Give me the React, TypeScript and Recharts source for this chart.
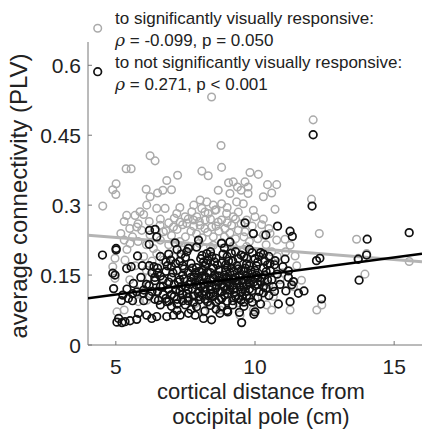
import React from "react";
import { ScatterChart, Scatter, XAxis, YAxis } from "recharts";

// electrodes connected to significantly visually responsive sites (gray)
const respSpread: [number, number][] = [
  [8.44, 0.532], [8.78, 0.428], [12.09, 0.483], [6.23, 0.406], [6.41, 0.395], [5.37, 0.378],
  [5.55, 0.378], [8.8, 0.381], [8.09, 0.373], [9.82, 0.37], [10.12, 0.366], [7.22, 0.364],
  [8.32, 0.363], [9.64, 0.35], [6.83, 0.353], [10.45, 0.344], [10.78, 0.344], [5.01, 0.346],
  [4.89, 0.333], [5.0, 0.323], [4.53, 0.298], [12.03, 0.313], [9.05, 0.348], [9.22, 0.35],
  [9.37, 0.339], [9.75, 0.339], [9.5, 0.332], [6.5, 0.326], [6.69, 0.332], [7.0, 0.333],
  [6.09, 0.334], [8.68, 0.332], [10.6, 0.326], [10.3, 0.318], [6.23, 0.318], [9.1, 0.325],
  [9.75, 0.325], [8.03, 0.311], [8.27, 0.307], [8.5, 0.3], [8.8, 0.303], [9.34, 0.307],
  [9.58, 0.303], [9.94, 0.289], [10.72, 0.291], [5.39, 0.278], [5.69, 0.278], [5.87, 0.286],
  [6.11, 0.3], [6.47, 0.293], [6.77, 0.293], [7.19, 0.282], [7.49, 0.275], [7.73, 0.286],
  [7.91, 0.275], [8.09, 0.293], [8.32, 0.282], [8.56, 0.289], [8.98, 0.282], [9.22, 0.275],
  [10.24, 0.258], [5.75, 0.253], [5.93, 0.246], [6.23, 0.236], [6.59, 0.257], [6.71, 0.243],
  [7.07, 0.253], [7.31, 0.264], [7.55, 0.261], [7.79, 0.268], [8.03, 0.257], [8.21, 0.268],
  [8.44, 0.253], [8.68, 0.264], [8.92, 0.25], [9.16, 0.257], [9.4, 0.246], [9.64, 0.243],
  [9.94, 0.239], [10.3, 0.236], [10.54, 0.239], [10.78, 0.225], [11.08, 0.227], [11.26, 0.214],
  [11.44, 0.191], [12.31, 0.239], [13.65, 0.227], [13.71, 0.186], [14.01, 0.196], [13.95, 0.152],
  [15.54, 0.179], [4.89, 0.168], [4.97, 0.186], [5.33, 0.182], [5.51, 0.218], [5.3, 0.225],
  [5.18, 0.239], [5.04, 0.071], [5.3, 0.075], [4.97, 0.143], [6.35, 0.207], [6.47, 0.196],
  [6.71, 0.182], [7.07, 0.189], [7.37, 0.204], [7.67, 0.211], [8.5, 0.214], [9.22, 0.211],
  [9.7, 0.211], [10.66, 0.104], [10.42, 0.086], [10.6, 0.075], [11.26, 0.075], [12.22, 0.075],
  [12.4, 0.086], [7.85, 0.089], [8.15, 0.071], [8.75, 0.075], [9.46, 0.064], [9.94, 0.075],
  [5.93, 0.111], [6.11, 0.096], [5.81, 0.093], [7.31, 0.118], [11.38, 0.125], [11.67, 0.139],
];

const respBand: [number, number][] = [
  [6.6, 0.27], [6.9, 0.262], [7.1, 0.272], [7.4, 0.258], [7.6, 0.27], [7.8, 0.255], [8.0, 0.265],
  [8.2, 0.25], [8.4, 0.27], [8.6, 0.255], [8.8, 0.268], [9.0, 0.262], [9.3, 0.27], [9.5, 0.26],
  [9.7, 0.268], [9.9, 0.255], [6.8, 0.245], [7.0, 0.235], [7.2, 0.248], [7.5, 0.232], [7.7, 0.244],
  [7.9, 0.238], [8.1, 0.23], [8.3, 0.242], [8.5, 0.232], [8.7, 0.244], [8.9, 0.232], [9.1, 0.24],
  [9.3, 0.228], [9.6, 0.232], [9.8, 0.222], [10.1, 0.228], [6.6, 0.225], [6.9, 0.215], [7.3, 0.222],
  [7.6, 0.212], [8.0, 0.218], [8.4, 0.21], [8.8, 0.22], [9.2, 0.212], [9.6, 0.205], [10.4, 0.215],
  [10.6, 0.2], [5.6, 0.232], [5.8, 0.222], [6.1, 0.215], [5.4, 0.205], [6.0, 0.19], [6.3, 0.18],
  [5.7, 0.17], [6.1, 0.16], [5.5, 0.14], [5.9, 0.13], [6.2, 0.145], [7.5, 0.1], [8.3, 0.09],
  [9.4, 0.09], [10.0, 0.1], [10.5, 0.13], [10.9, 0.14], [11.0, 0.155], [10.8, 0.19], [11.1, 0.2],
  [11.5, 0.17], [8.6, 0.29], [9.0, 0.295], [7.3, 0.295], [7.8, 0.3], [8.2, 0.285], [9.4, 0.285],
  [10.0, 0.275], [10.3, 0.27], [10.5, 0.25], [6.2, 0.265], [6.0, 0.28], [5.8, 0.26], [5.5, 0.25],
  [5.3, 0.265],
];

// electrodes connected to not significantly visually responsive sites (black)
const nonRespSpread: [number, number][] = [
  [12.09, 0.451], [12.05, 0.298], [15.54, 0.241], [14.03, 0.227], [13.74, 0.139], [14.01, 0.193],
  [13.71, 0.184], [12.39, 0.099], [12.21, 0.181], [12.33, 0.186], [9.64, 0.262], [10.81, 0.255],
  [11.26, 0.244], [11.34, 0.233], [10.39, 0.236], [9.94, 0.239], [4.52, 0.193], [5.01, 0.207],
  [5.01, 0.204], [6.21, 0.246], [6.41, 0.248], [6.2, 0.216], [6.47, 0.232], [7.13, 0.219],
  [5.78, 0.191], [5.95, 0.17], [5.39, 0.164], [5.55, 0.168], [4.89, 0.154], [4.97, 0.15],
  [4.92, 0.121], [5.63, 0.132], [6.37, 0.168], [6.97, 0.182], [7.61, 0.207], [7.97, 0.225],
  [8.27, 0.196], [8.8, 0.218], [9.1, 0.221], [9.7, 0.186], [10.3, 0.195], [10.54, 0.175],
  [10.72, 0.181], [11.08, 0.184], [11.2, 0.159], [11.38, 0.136], [11.32, 0.129], [11.56, 0.111],
  [11.76, 0.116], [11.11, 0.116], [11.26, 0.093], [10.84, 0.088], [10.0, 0.071], [9.96, 0.066],
  [9.52, 0.048], [9.44, 0.07], [9.02, 0.071], [8.74, 0.068], [8.44, 0.054], [8.15, 0.057],
  [7.85, 0.064], [7.61, 0.068], [7.31, 0.064], [7.07, 0.064], [6.83, 0.061], [6.47, 0.061],
  [6.29, 0.057], [6.11, 0.064], [5.81, 0.068], [5.75, 0.055], [5.51, 0.052], [5.33, 0.05],
  [5.22, 0.048], [5.04, 0.049], [5.1, 0.057], [5.25, 0.107], [5.45, 0.1], [5.75, 0.114],
  [5.99, 0.111], [6.53, 0.096], [6.83, 0.093],
];

const nonRespCluster: [number, number][] = [
  [7.2, 0.205], [7.9, 0.21], [8.4, 0.2], [8.9, 0.208], [9.3, 0.2], [9.8, 0.205], [10.2, 0.198], [6.9, 0.195],
  [6.6, 0.19], [7.5, 0.188], [8.1, 0.192], [8.6, 0.186], [9.0, 0.19], [9.5, 0.193], [10.0, 0.185], [10.5, 0.19],
  [6.8, 0.178], [7.3, 0.18], [7.7, 0.175], [8.3, 0.182], [8.8, 0.176], [9.2, 0.18], [9.7, 0.174], [10.1, 0.178],
  [10.7, 0.172], [6.5, 0.165], [7.0, 0.168], [7.4, 0.17], [7.9, 0.166], [8.2, 0.17], [8.5, 0.165], [9.0, 0.168],
  [9.4, 0.163], [9.8, 0.17], [10.3, 0.165], [11.0, 0.168], [6.3, 0.155], [6.8, 0.158], [7.2, 0.16], [7.6, 0.155],
  [8.0, 0.158], [8.4, 0.155], [8.7, 0.16], [9.1, 0.155], [9.6, 0.158], [9.9, 0.152], [10.4, 0.157], [10.8, 0.152],
  [6.6, 0.148], [7.0, 0.145], [7.4, 0.15], [7.8, 0.146], [8.1, 0.148], [8.5, 0.144], [8.9, 0.15], [9.3, 0.145],
  [9.7, 0.148], [10.1, 0.144], [10.6, 0.14], [11.2, 0.145], [6.4, 0.138], [6.9, 0.135], [7.3, 0.14], [7.7, 0.136],
  [8.0, 0.138], [8.3, 0.134], [8.7, 0.138], [9.0, 0.134], [9.4, 0.138], [9.8, 0.133], [10.2, 0.136], [10.9, 0.13],
  [6.2, 0.128], [6.7, 0.126], [7.1, 0.13], [7.5, 0.125], [7.9, 0.128], [8.2, 0.124], [8.6, 0.129], [8.9, 0.124],
  [9.2, 0.128], [9.6, 0.124], [10.0, 0.127], [10.4, 0.122], [6.0, 0.118], [6.5, 0.115], [6.9, 0.12], [7.3, 0.116],
  [7.6, 0.119], [8.0, 0.115], [8.4, 0.118], [8.8, 0.114], [9.1, 0.118], [9.5, 0.114], [9.9, 0.117], [10.3, 0.112],
  [10.7, 0.115], [6.2, 0.105], [6.7, 0.108], [7.1, 0.104], [7.4, 0.108], [7.8, 0.105], [8.1, 0.108], [8.5, 0.104],
  [8.9, 0.107], [9.3, 0.104], [9.7, 0.106], [10.1, 0.102], [10.5, 0.106], [6.0, 0.095], [6.4, 0.098], [6.9, 0.094],
  [7.2, 0.098], [7.6, 0.095], [8.0, 0.097], [8.3, 0.093], [8.7, 0.097], [9.0, 0.094], [9.5, 0.096], [9.9, 0.092],
  [6.6, 0.086], [7.0, 0.083], [7.5, 0.086], [7.9, 0.082], [8.4, 0.085], [8.8, 0.082], [9.2, 0.086], [9.6, 0.083],
  [10.2, 0.088], [7.2, 0.074], [7.7, 0.076], [8.2, 0.073], [8.6, 0.077], [9.0, 0.074],
  [8.25, 0.145], [8.45, 0.125], [8.65, 0.135], [8.75, 0.115], [9.05, 0.142], [9.25, 0.122], [9.45, 0.15],
  [9.55, 0.133], [9.65, 0.115], [9.75, 0.14], [7.95, 0.112], [8.15, 0.132], [8.35, 0.105], [7.65, 0.13],
  [7.45, 0.142], [7.85, 0.155], [8.55, 0.15], [8.95, 0.16], [9.35, 0.17], [9.85, 0.16], [10.05, 0.15],
  [10.25, 0.145],
];

const nonRespCore: [number, number][] = [
  [7.35, 0.195], [7.55, 0.2], [8.05, 0.185], [8.25, 0.175], [8.45, 0.19], [8.65, 0.172], [8.85, 0.195],
  [9.05, 0.18], [9.15, 0.197], [9.4, 0.185], [9.6, 0.19], [9.9, 0.198], [10.15, 0.19], [10.35, 0.18],
  [10.55, 0.16], [10.65, 0.125], [10.45, 0.14], [7.05, 0.155], [7.25, 0.135], [7.15, 0.118], [7.35, 0.125],
  [7.55, 0.11], [7.7, 0.145], [7.75, 0.12], [7.85, 0.135], [7.95, 0.145], [8.05, 0.125], [8.1, 0.16],
  [8.2, 0.115], [8.3, 0.155], [8.4, 0.14], [8.5, 0.112], [8.6, 0.122], [8.7, 0.148], [8.8, 0.13],
  [8.85, 0.142], [8.95, 0.118], [9.0, 0.145], [9.1, 0.128], [9.15, 0.165], [9.2, 0.14], [9.3, 0.113],
  [9.35, 0.132], [9.45, 0.125], [9.5, 0.16], [9.55, 0.105], [9.6, 0.14], [9.7, 0.128], [9.8, 0.12],
  [9.85, 0.145], [9.95, 0.135], [10.0, 0.16], [10.1, 0.13], [10.15, 0.115], [10.3, 0.125], [10.35, 0.15],
  [7.0, 0.108], [7.2, 0.088], [7.4, 0.095], [7.6, 0.102], [7.8, 0.092], [8.0, 0.104], [8.2, 0.098],
  [8.4, 0.11], [8.6, 0.092], [8.8, 0.1], [9.0, 0.11], [9.2, 0.095], [9.4, 0.1], [9.6, 0.092], [9.8, 0.1],
  [6.8, 0.1], [6.6, 0.125], [6.7, 0.14], [6.5, 0.155], [6.85, 0.17], [7.15, 0.175], [7.45, 0.163],
  [7.75, 0.165], [8.15, 0.178], [8.55, 0.178], [8.95, 0.172], [9.25, 0.158], [9.65, 0.165], [10.05, 0.17],
  [10.45, 0.172], [6.3, 0.115], [6.1, 0.13], [6.4, 0.145], [6.2, 0.17], [5.9, 0.145], [5.6, 0.11],
  [5.4, 0.12], [5.2, 0.095], [5.6, 0.095],
];

// least-squares fits, endpoints at the axis limits
const respFit: [number, number][] = [[4, 0.2357], [16, 0.1786]];
const nonRespFit: [number, number][] = [[4, 0.1], [16, 0.196]];

const xTicks = [5, 10, 15];
const yTicks = [0, 0.15, 0.3, 0.45, 0.6];

const legendLines = [
  "to significantly visually responsive:",
  "= -0.099, p = 0.050",
  "to not significantly visually responsive:",
  "= 0.271, p < 0.001",
];

const toObj = (pts: [number, number][]) => pts.map(([x, y]) => ({ x, y }));

const GRAY = "#aaaaaa";
const BLACK = "#111111";
const FONT = "'Liberation Sans', Arial, sans-serif";

const ring = (color: string, w: number) => (props: any) =>
  <circle cx={props.cx} cy={props.cy} r={3.8} fill="none" stroke={color} strokeWidth={w} />;

const XTick = (props: any) => (
  <g>
    <line x1={props.x} y1={props.y} x2={props.x} y2={props.y - 4} stroke="#777" />
    <text x={props.x} y={props.y + 29} textAnchor="middle" fontSize={21} fill="#222" fontFamily={FONT}>
      {props.payload.value}
    </text>
  </g>
);

const YTick = (props: any) => (
  <g>
    <line x1={props.x} y1={props.y} x2={props.x + 4} y2={props.y} stroke="#777" />
    <text x={props.x - 7} y={props.y} dy="0.36em" textAnchor="end" fontSize={21} fill="#222" fontFamily={FONT}>
      {props.payload.value}
    </text>
  </g>
);

export default function App() {
  return (
    <div style={{ position: "absolute", left: 0, top: 0, background: "#fff" }}>
      <ScatterChart width={422} height={433} margin={{ top: 42, right: 0, bottom: 0, left: 0 }}>
        <XAxis
          type="number"
          dataKey="x"
          domain={[4, 16]}
          ticks={xTicks}
          allowDataOverflow
          height={88}
          stroke="#777"
          tickSize={0}
          tickMargin={0}
          tick={<XTick />}
        />
        <YAxis
          type="number"
          dataKey="y"
          domain={[0, 0.65]}
          ticks={yTicks}
          allowDataOverflow
          width={88}
          stroke="#777"
          tickSize={0}
          tickMargin={0}
          tick={<YTick />}
        />
        <Scatter data={toObj([...respSpread, ...respBand])} shape={ring(GRAY, 1.5)} isAnimationActive={false} />
        <Scatter
          data={toObj(respFit)}
          line={{ stroke: "#b4b4b4", strokeWidth: 3 }}
          shape={() => <g />}
          isAnimationActive={false}
        />
        <Scatter
          data={toObj([...nonRespSpread, ...nonRespCluster, ...nonRespCore])}
          shape={ring(BLACK, 1.7)}
          isAnimationActive={false}
        />
        <Scatter
          data={toObj(nonRespFit)}
          line={{ stroke: "#000", strokeWidth: 2.5 }}
          shape={() => <g />}
          isAnimationActive={false}
        />
        <text
          transform="translate(27,196) rotate(-90)"
          textAnchor="middle"
          fontSize={24}
          fill="#222"
          fontFamily={FONT}
        >
          average connectivity (PLV)
        </text>
        <text x={261} y={399} textAnchor="middle" fontSize={22} fill="#222" fontFamily={FONT}>
          cortical distance from
        </text>
        <text x={261} y={424} textAnchor="middle" fontSize={22} fill="#222" fontFamily={FONT}>
          occipital pole (cm)
        </text>
        <circle cx={97.7} cy={28.3} r={3.8} fill="none" stroke={GRAY} strokeWidth={1.5} />
        <circle cx={97.7} cy={71.7} r={3.8} fill="none" stroke={BLACK} strokeWidth={1.7} />
        {legendLines.map((t, i) => (
          <text key={i} x={115} y={24 + i * 22} fontSize={17} fill="#222" fontFamily={FONT}>
            {i % 2 === 1 ? (
              <>
                <tspan fontStyle="italic" fontFamily="'DejaVu Serif', serif">ρ</tspan>
                <tspan> {t}</tspan>
              </>
            ) : (
              t
            )}
          </text>
        ))}
      </ScatterChart>
    </div>
  );
}
